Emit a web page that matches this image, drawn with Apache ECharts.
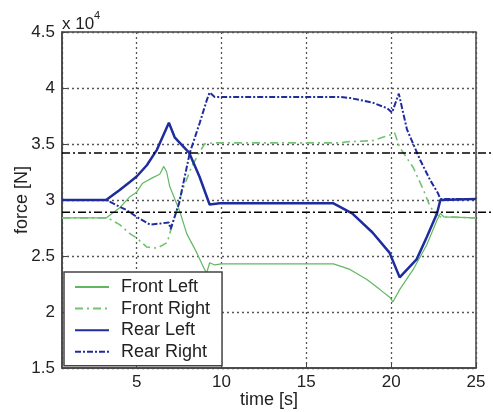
<!DOCTYPE html>
<html>
<head>
<meta charset="utf-8">
<script src="https://cdn.jsdelivr.net/npm/echarts@6/dist/echarts.min.js"></script>
<style>
  html, body { margin: 0; padding: 0; background: #fff; }
  #chart { width: 493px; height: 412px; }
</style>
</head>
<body>
<div id="chart"></div>
<script>
// force values in units of 1e4 N, time in s
var frontLeft = [[0.6, 2.84], [3.2, 2.84], [4.0, 2.93], [4.6, 3.03], [5.0, 3.07], [5.35, 3.15], [5.95, 3.2],
    [6.36, 3.23], [6.6, 3.3], [6.77, 3.25], [6.95, 3.12], [7.54, 2.9], [7.95, 2.7], [8.54, 2.53], [9.0, 2.38],
    [9.13, 2.35], [9.3, 2.44], [9.6, 2.42], [10.0, 2.43], [16.6, 2.43], [17.57, 2.38], [18.57, 2.29],
    [19.34, 2.2], [19.93, 2.13], [20.1, 2.09], [20.5, 2.2], [21.3, 2.38], [22.1, 2.6], [22.7, 2.82],
    [22.9, 2.88], [23.1, 2.85], [25, 2.84]];
var frontRight = [[0.6, 2.84], [3.3, 2.84], [4.0, 2.78], [4.6, 2.7], [5.0, 2.66], [5.6, 2.58], [6.2, 2.57],
    [6.8, 2.62], [6.95, 2.7], [7.24, 2.85], [7.7, 3.09], [8.25, 3.3], [8.72, 3.43], [9.0, 3.5], [9.5, 3.51],
    [17.0, 3.51], [17.4, 3.52], [18.9, 3.53], [19.5, 3.56], [19.93, 3.58], [20.2, 3.6], [20.5, 3.47],
    [21.3, 3.29], [21.9, 3.09], [22.3, 2.94], [22.6, 2.88], [22.9, 2.85], [25, 2.84]];
var rearLeft = [[0.6, 3.0], [3.2, 3.0], [4.0, 3.09], [4.6, 3.16], [5.0, 3.21], [5.6, 3.31], [6.2, 3.45],
    [6.9, 3.69], [7.24, 3.56], [8.1, 3.42], [8.7, 3.21], [9.3, 2.96], [9.9, 2.97], [16.6, 2.97], [17.7, 2.88],
    [18.9, 2.71], [19.9, 2.53], [20.5, 2.31], [21.5, 2.47], [22.1, 2.67], [22.7, 2.88], [22.9, 3.0],
    [25, 3.01]];
var rearRight = [[0.6, 3.0], [3.2, 3.0], [4.4, 2.91], [5.0, 2.85], [5.8, 2.78], [6.4, 2.79], [6.9, 2.8],
    [7.0, 2.74], [7.5, 2.97], [8.13, 3.42], [8.72, 3.69], [9.13, 3.89], [9.3, 3.96], [9.6, 3.92],
    [17.0, 3.92], [17.6, 3.91], [18.9, 3.87], [19.75, 3.82], [20.05, 3.78], [20.45, 3.95], [20.6, 3.85],
    [20.93, 3.63], [21.7, 3.36], [22.29, 3.18], [22.76, 3.06], [22.9, 3.01], [25, 3.01]];
var limitUpper = 3.42;
var limitLower = 2.89;
var yTicks = [1.5, 4.5, 0.5]; // min, max, step

var blue = '#1f2c9e';
var green = '#62b862';
var font = 'Liberation Sans, Arial, sans-serif';

var chart = echarts.init(document.getElementById('chart'));

var option = {
    animation: false,
    title: [{
        text: 'x 10',
        left: 62, top: 16, padding: 0,
        textStyle: { fontFamily: font, fontSize: 17, fontWeight: 'normal', color: '#222' }
    }, {
        text: '4',
        left: 94, top: 10, padding: 0,
        textStyle: { fontFamily: font, fontSize: 11, fontWeight: 'normal', color: '#222' }
    }],
    grid: [{
        left: 62, right: 17, top: 32, bottom: 44,
        outerBoundsMode: 'none',
        show: true, borderColor: '#444', borderWidth: 1.5
    }, {
        left: 62, right: 2, top: 32, bottom: 44,
        outerBoundsMode: 'none'
    }],
    legend: {
        orient: 'vertical',
        left: 64, top: 272,
        backgroundColor: '#fff',
        borderColor: '#444', borderWidth: 1.5,
        padding: [6, 12, 5, 10],
        itemWidth: 34, itemHeight: 14, itemGap: 3.6,
        itemStyle: { opacity: 0 },
        textStyle: { fontFamily: font, fontSize: 18, color: '#222', lineHeight: 14, padding: [0, 0, 0, 7] },
        data: ['Front Left', 'Front Right', 'Rear Left', 'Rear Right']
    },
    xAxis: [{
        type: 'value', gridIndex: 0,
        min: 0.6, max: 25, splitNumber: 5,
        name: 'time [s]', nameLocation: 'middle', nameGap: 23, nameMoveOverlap: false,
        nameTextStyle: { fontFamily: font, fontSize: 18, color: '#222' },
        axisLine: { lineStyle: { color: '#444', width: 1.5 } },
        axisTick: { inside: true, length: 5, lineStyle: { color: '#444' } },
        axisLabel: { showMinLabel: false, fontFamily: font, fontSize: 17, color: '#222', margin: 6 },
        splitLine: { show: true, lineStyle: { color: '#555', width: 1.3, type: [2, 3] } }
    }, {
        type: 'value', gridIndex: 1, min: 0, max: 1, show: false
    }],
    yAxis: [{
        type: 'value', gridIndex: 0,
        min: yTicks[0], max: yTicks[1], interval: yTicks[2],
        name: 'force [N]', nameLocation: 'middle', nameGap: 31, nameMoveOverlap: false,
        nameTextStyle: { fontFamily: font, fontSize: 18, color: '#222' },
        axisLine: { show: true, lineStyle: { color: '#444', width: 1.5 } },
        axisTick: { show: true, inside: true, length: 5, lineStyle: { color: '#444' } },
        axisLabel: { fontFamily: font, fontSize: 17, color: '#222', margin: 7 },
        splitLine: { show: true, lineStyle: { color: '#555', width: 1.3, type: [2, 3] } }
    }, {
        type: 'value', gridIndex: 1, min: yTicks[0], max: yTicks[1], show: false
    }],
    series: [{
        name: 'Front Left', type: 'line', showSymbol: false, symbol: 'none',
        data: frontLeft,
        lineStyle: { color: green, width: 1.2 }, itemStyle: { color: green }
    }, {
        name: 'Front Right', type: 'line', showSymbol: false, symbol: 'none',
        data: frontRight,
        lineStyle: { color: '#74c274', width: 1.6, type: [8, 4, 2, 4] }, itemStyle: { color: '#74c274' }
    }, {
        name: 'Rear Left', type: 'line', showSymbol: false, symbol: 'none',
        data: rearLeft,
        lineStyle: { color: blue, width: 2.5 }, itemStyle: { color: blue }
    }, {
        name: 'Rear Right', type: 'line', showSymbol: false, symbol: 'none',
        data: rearRight,
        lineStyle: { color: blue, width: 2, type: [6, 2, 2, 2] }, itemStyle: { color: blue }
    }, {
        name: 'upper', type: 'line', xAxisIndex: 1, yAxisIndex: 1, symbol: 'none', silent: true,
        data: [[0, limitUpper], [1, limitUpper]],
        lineStyle: { color: '#000', width: 1.6, type: [8, 3, 2, 3] }
    }, {
        name: 'lower', type: 'line', xAxisIndex: 1, yAxisIndex: 1, symbol: 'none', silent: true,
        data: [[0, limitLower], [1, limitLower]],
        lineStyle: { color: '#000', width: 1.6, type: [8, 3, 2, 3] }
    }]
};

chart.setOption(option);
</script>
</body>
</html>
